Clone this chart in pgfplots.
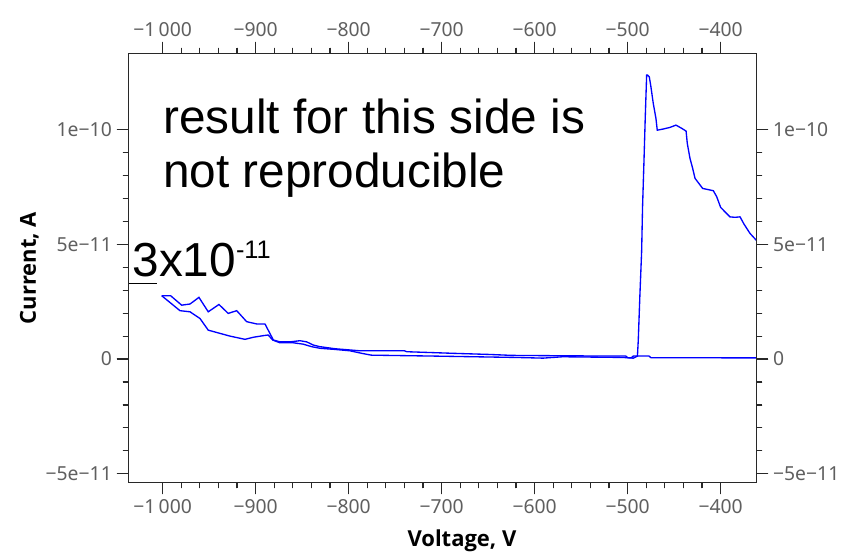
\documentclass[border=0pt]{standalone}
\usepackage{pgfplots}
\pgfplotsset{compat=1.18}
\usepackage{fontspec}
\setmainfont{Noto Sans}
\newfontfamily\labfont{Open Sans}
\newfontfamily\annot{Liberation Sans}
\definecolor{ticklab}{RGB}{95,95,95}
\definecolor{framec}{RGB}{40,40,40}

\pgfplotsset{
  ivframe/.style={
    scale only axis, width=471.3pt, height=322pt,
    xmin=-1037, xmax=-361.3, ymin=-5.39e-11, ymax=13.33e-11,
    xtick={-1000,-900,-800,-700,-600,-500,-400},
    xticklabels={−1\,000,−900,−800,−700,−600,−500,−400},
    ytick={-5e-11,0,5e-11,1e-10},
    yticklabels={−5e−11,0,5e−11,1e−10},
    minor x tick num=4, minor y tick num=4,
    scaled y ticks=false, scaled x ticks=false,
    tick align=outside,
    major tick length=8.8pt, minor tick length=4.3pt,
    axis line style={framec, line width=1pt},
    every tick/.style={framec, line width=0.9pt},
    tick label style={font=\fontsize{14.5}{16}\selectfont, text=ticklab},
    clip mode=individual,
  }
}

\begin{document}
\begin{tikzpicture}
\useasboundingbox (-96.2pt,-54.2pt) rectangle (539.8pt,362pt);
\begin{axis}[
  ivframe,
  xlabel={Voltage, V},
  ylabel={Current, A},
  xlabel style={at={(axis description cs:0.531,0)}, anchor=north, inner sep=0pt,
    yshift=-35pt, font=\labfont\bfseries\fontsize{16.5}{18}\selectfont},
  ylabel style={at={(axis description cs:-0.142,0.5)}, anchor=south, inner sep=0pt,
    font=\labfont\bfseries\fontsize{16.5}{18}\selectfont},
]
% sweep towards -360 V, with the jump near -490 V
\addplot[blue, line width=1pt, no markers] coordinates {
  (-1001,2.76e-11) (-981.4,2.11e-11) (-970.6,2.06e-11) (-959.9,1.77e-11)
  (-951,1.26e-11) (-938.4,1.12e-11) (-927.6,1.00e-11) (-911.5,0.86e-11)
  (-902.6,0.95e-11) (-891.8,1.02e-11) (-886.5,1.05e-11) (-881.7,0.83e-11)
  (-874,0.71e-11) (-859.6,0.71e-11) (-849,0.65e-11) (-839.8,0.54e-11)
  (-830.9,0.47e-11) (-814.7,0.42e-11) (-798.6,0.36e-11) (-786,0.25e-11)
  (-775.7,0.17e-11) (-709,0.13e-11) (-620,0.07e-11) (-591,0.04e-11)
  (-570,0.10e-11) (-505,0.07e-11) (-494,0.04e-11) (-489.5,0.13e-11)
  (-488.6,0.83e-11) (-486.9,2.75e-11) (-485,4.68e-11) (-484,6.64e-11)
  (-482.5,8.60e-11) (-481.1,10.54e-11) (-479.6,12.38e-11) (-478.5,12.38e-11)
  (-476.8,12.31e-11) (-475.3,11.95e-11) (-472.5,11.15e-11) (-469.6,10.49e-11)
  (-468.2,9.98e-11) (-461.7,10.03e-11) (-454.6,10.10e-11) (-448.1,10.20e-11)
  (-441.9,10.06e-11) (-437.2,9.94e-11) (-435.9,9.40e-11) (-433,8.75e-11)
  (-430.1,8.31e-11) (-427.6,7.88e-11) (-419.4,7.44e-11) (-407.9,7.34e-11)
  (-404.3,7.08e-11) (-400,6.61e-11) (-390,6.20e-11) (-384.6,6.18e-11)
  (-379.2,6.20e-11) (-375,5.89e-11) (-368.5,5.48e-11) (-361,5.15e-11)
};
% sweep back towards -1000 V
\addplot[blue, line width=1pt, no markers] coordinates {
  (-361,0.05e-11) (-475,0.06e-11) (-477,0.13e-11) (-494,0.13e-11)
  (-496,0.06e-11) (-500,0.06e-11) (-502,0.13e-11) (-524,0.13e-11)
  (-624.7,0.16e-11) (-648,0.20e-11) (-687.5,0.25e-11) (-737.6,0.32e-11)
  (-740,0.36e-11) (-787.8,0.36e-11) (-814.7,0.45e-11) (-830.9,0.54e-11)
  (-838,0.61e-11) (-845.2,0.75e-11) (-852.4,0.80e-11) (-863,0.75e-11)
  (-873.9,0.75e-11) (-881,0.83e-11) (-890,1.53e-11) (-898.9,1.53e-11)
  (-909.7,1.63e-11) (-920.4,2.11e-11) (-929.5,1.99e-11) (-939.5,2.38e-11)
  (-951,2.06e-11) (-961,2.69e-11) (-970.6,2.40e-11) (-979.6,2.35e-11)
  (-991.4,2.76e-11) (-1001,2.76e-11)
};
\node[anchor=base west, inner sep=0pt, font=\annot\fontsize{35.8}{40}\selectfont]
  at (axis cs:-999.7,9.83e-11) {result for this side is};
\node[anchor=base west, inner sep=0pt, font=\annot\fontsize{35.8}{40}\selectfont]
  at (axis cs:-999.7,7.46e-11) {not reproducible};
\node[anchor=base west, inner sep=0pt, font=\annot\fontsize{35.8}{40}\selectfont]
  at (axis cs:-1032.7,3.59e-11) {3x10\raisebox{14pt}{\fontsize{19}{19}\selectfont -11}};
\draw[black, line width=0.75pt] (axis cs:-1037,3.30e-11) -- (axis cs:-1006.5,3.30e-11);
\end{axis}
% second frame, only for the tick labels on top and right
\begin{axis}[
  ivframe,
  xticklabel pos=right,
  yticklabel pos=right,
]
\end{axis}
\end{tikzpicture}
\end{document}
